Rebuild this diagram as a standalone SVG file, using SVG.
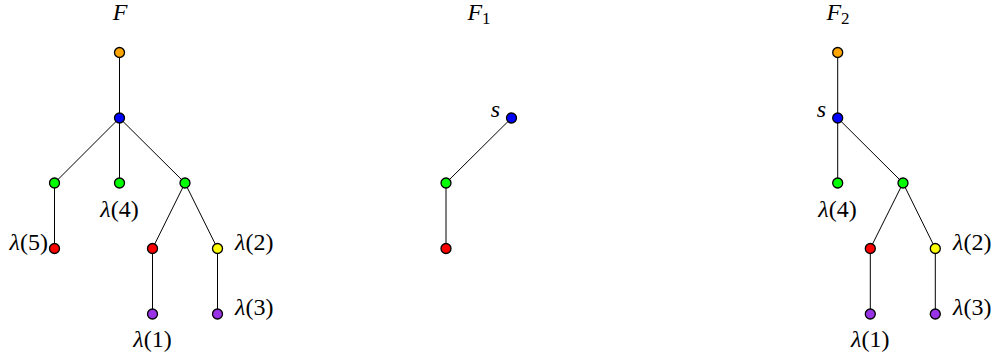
<svg xmlns="http://www.w3.org/2000/svg" width="998" height="361" viewBox="0 0 998 361">
<style>
.n{stroke:#000;stroke-width:1.3}
.e line{stroke:#000;stroke-width:1}
text{font-family:"Liberation Serif","DejaVu Serif",serif;font-size:24px;fill:#000}
.i{font-style:italic}
.sub{font-size:17px}
.o{fill:#FFA500}.b{fill:#0000FF}.g{fill:#00FF00}.r{fill:#FF0000}.y{fill:#FFFF00}.p{fill:#9933E6}
</style>
<rect width="998" height="361" fill="#fff"/>
<g id="connectors" class="e">
<line x1="119.5" y1="52.5" x2="119.5" y2="118"/>
<line x1="119.5" y1="118" x2="54.5" y2="183"/>
<line x1="119.5" y1="118" x2="119.5" y2="183"/>
<line x1="119.5" y1="118" x2="185" y2="183"/>
<line x1="54.5" y1="183" x2="54.5" y2="248.5"/>
<line x1="185" y1="183" x2="152.5" y2="248.5"/>
<line x1="185" y1="183" x2="217.5" y2="248.5"/>
<line x1="152.5" y1="248.5" x2="152.5" y2="314"/>
<line x1="217.5" y1="248.5" x2="217.5" y2="314"/>
<line x1="511.5" y1="118" x2="446" y2="183"/>
<line x1="446" y1="183" x2="446" y2="248.5"/>
<line x1="837.7" y1="52.5" x2="837.7" y2="118"/>
<line x1="837.7" y1="118" x2="837.7" y2="183"/>
<line x1="837.7" y1="118" x2="903" y2="183"/>
<line x1="903" y1="183" x2="870.3" y2="248.5"/>
<line x1="903" y1="183" x2="935.3" y2="248.5"/>
<line x1="870.3" y1="248.5" x2="870.3" y2="314"/>
<line x1="935.3" y1="248.5" x2="935.3" y2="314"/>
</g>
<g id="titles">
<text x="120" y="20" text-anchor="middle" class="i">F</text>
<text x="479" y="20" text-anchor="middle"><tspan class="i">F</tspan><tspan class="sub" dy="4">1</tspan></text>
<text x="838" y="20" text-anchor="middle"><tspan class="i">F</tspan><tspan class="sub" dy="4">2</tspan></text>
</g>
<g id="F">
<g id="F-a"><circle class="n o" cx="119.5" cy="52.5" r="5"/></g>
<g id="F-b"><circle class="n b" cx="119.5" cy="118" r="5"/></g>
<g id="F-c"><circle class="n g" cx="54.5" cy="183" r="5"/></g>
<g id="F-d"><circle class="n g" cx="119.5" cy="183" r="5"/><text x="119.5" y="217" text-anchor="middle"><tspan class="i">λ</tspan>(4)</text></g>
<g id="F-e"><circle class="n g" cx="185" cy="183" r="5"/></g>
<g id="F-f"><circle class="n r" cx="54.5" cy="248.5" r="5"/><text x="48" y="250" text-anchor="end"><tspan class="i">λ</tspan>(5)</text></g>
<g id="F-g"><circle class="n r" cx="152.5" cy="248.5" r="5"/></g>
<g id="F-h"><circle class="n y" cx="217.5" cy="248.5" r="5"/><text x="235" y="250" text-anchor="start"><tspan class="i">λ</tspan>(2)</text></g>
<g id="F-i"><circle class="n p" cx="152.5" cy="314" r="5"/><text x="152.5" y="347" text-anchor="middle"><tspan class="i">λ</tspan>(1)</text></g>
<g id="F-j"><circle class="n p" cx="217.5" cy="314" r="5"/><text x="235" y="315" text-anchor="start"><tspan class="i">λ</tspan>(3)</text></g>
</g>
<g id="F1">
<g id="F1-s"><circle class="n b" cx="511.5" cy="118" r="5"/><text x="500" y="116.5" text-anchor="end" class="i">s</text></g>
<g id="F1-c"><circle class="n g" cx="446" cy="183" r="5"/></g>
<g id="F1-f"><circle class="n r" cx="446" cy="248.5" r="5"/></g>
</g>
<g id="F2">
<g id="F2-a"><circle class="n o" cx="837.7" cy="52.5" r="5"/></g>
<g id="F2-s"><circle class="n b" cx="837.7" cy="118" r="5"/><text x="826" y="116.5" text-anchor="end" class="i">s</text></g>
<g id="F2-d"><circle class="n g" cx="837.7" cy="183" r="5"/><text x="837.5" y="217" text-anchor="middle"><tspan class="i">λ</tspan>(4)</text></g>
<g id="F2-e"><circle class="n g" cx="903" cy="183" r="5"/></g>
<g id="F2-g"><circle class="n r" cx="870.3" cy="248.5" r="5"/></g>
<g id="F2-h"><circle class="n y" cx="935.3" cy="248.5" r="5"/><text x="953" y="250" text-anchor="start"><tspan class="i">λ</tspan>(2)</text></g>
<g id="F2-i"><circle class="n p" cx="870.3" cy="314" r="5"/><text x="870.3" y="347" text-anchor="middle"><tspan class="i">λ</tspan>(1)</text></g>
<g id="F2-j"><circle class="n p" cx="935.3" cy="314" r="5"/><text x="953" y="315" text-anchor="start"><tspan class="i">λ</tspan>(3)</text></g>
</g>
</svg>
